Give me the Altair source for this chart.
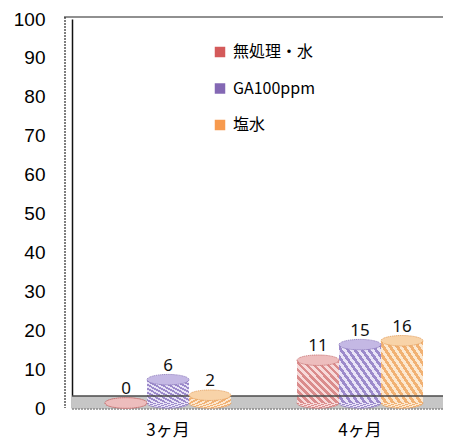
import altair as alt
import pandas as pd

categories = ["3ヶ月", "4ヶ月"]
series = ["無処理・水", "GA100ppm", "塩水"]
values_3m = [0, 6, 2]
values_4m = [11, 15, 16]
y_ticks = list(range(0, 101, 10))

legend_colors = ["#D45A5A", "#8468B4", "#F79A4E"]
stripe_light = ["#F7DADA", "#E9E4F7", "#FCE8D0"]
stripe_dark = ["#DA8C8C", "#9C8ACB", "#F1B173"]
top_fill = ["#EDBDBD", "#C4B8E4", "#F8D3A8"]
edge = ["#C46A6A", "#8572B8", "#E39A55"]

rows = []
for c, vals in zip(categories, [values_3m, values_4m]):
    for s, v in zip(series, vals):
        rows.append({"cat": c, "series": s, "value": v})
df = pd.DataFrame(rows)
one = pd.DataFrame({"k": [0]})

W, H = 371, 389


def stripes(light, dark, n):
    stops = []
    for i in range(n):
        a = i / n
        b = (i + 0.5) / n
        c = min(1.0, (i + 1) / n)
        stops += [
            alt.GradientStop(offset=a, color=light),
            alt.GradientStop(offset=b, color=light),
            alt.GradientStop(offset=b, color=dark),
            alt.GradientStop(offset=c, color=dark),
        ]
    return alt.LinearGradient(gradient="linear", x1=0, y1=1, x2=1, y2=0, stops=stops)


x_enc = alt.X(
    "cat:N",
    sort=categories,
    scale=alt.Scale(domain=categories, paddingInner=0.1355, paddingOuter=0.0339, align=1),
    axis=alt.Axis(
        title=None, domain=False, ticks=False, labelAngle=0,
        labelFont="Noto Sans CJK JP", labelFontSize=17, labelColor="#000",
        labelPadding=14,
    ),
)
xo_enc = alt.XOffset(
    "series:N", sort=series,
    scale=alt.Scale(domain=series, paddingInner=0, paddingOuter=0.476),
)
y_scale = alt.Scale(domain=[0, 100], nice=False, zero=True)
y_axis = alt.Axis(
    title=None, values=y_ticks, grid=False, ticks=False,
    domain=True, domainColor="#111", domainWidth=1.5,
    labelFont="Liberation Sans", labelFontSize=19, labelColor="#000",
    labelPadding=27, labelOverlap=False,
)
y_enc = alt.Y("value:Q", scale=y_scale, axis=y_axis)

floor = alt.Chart(one).mark_rect(fill="#C6C6C6").encode(
    x=alt.value(0), x2=alt.value(W), y=alt.value(377), y2=alt.value(390)
)
floor_top = alt.Chart(one).mark_rule(color="#4A4A4A", strokeWidth=1.5).encode(
    x=alt.value(0), x2=alt.value(W), y=alt.value(377)
)
floor_bottom = alt.Chart(one).mark_rule(color="#8A8A8A", strokeDash=[2, 1], strokeWidth=1.5).encode(
    x=alt.value(0), x2=alt.value(W), y=alt.value(390)
)
top_border = alt.Chart(one).mark_rule(color="#222", strokeWidth=1.2).encode(
    x=alt.value(-8), x2=alt.value(W), y=alt.value(-2)
)
wall = alt.Chart(one).mark_rule(color="#555", strokeWidth=1.5, strokeDash=[2, 1]).encode(
    x=alt.value(-7), x2=alt.value(-7), y=alt.value(-2), y2=alt.value(389)
)

ell = "M -1 0 A 1 0.25 0 1 0 1 0 A 1 0.25 0 1 0 -1 0 Z"

bottoms, bars, tops = [], [], []
for i, s in enumerate(series):
    base = alt.Chart(df).transform_filter(alt.datum.series == s)
    grad = stripes(stripe_light[i], stripe_dark[i], 12)
    bottoms.append(
        base.mark_point(shape=ell, filled=True, size=1764, fill=grad, stroke=edge[i],
                        strokeWidth=0.6, opacity=1, yOffset=-5)
        .encode(x=x_enc, xOffset=xo_enc, y=alt.datum(0, scale=y_scale, axis=y_axis))
    )
    bars.append(
        base.mark_bar(fill=grad, yOffset=-5, y2Offset=-5, strokeWidth=0)
        .encode(x=x_enc, xOffset=xo_enc, y=y_enc)
    )
    tops.append(
        base.mark_point(shape=ell, filled=True, size=1764, fill=top_fill[i], stroke=edge[i],
                        strokeWidth=1, strokeDash=[1, 1], opacity=1, yOffset=-5)
        .encode(x=x_enc, xOffset=xo_enc, y=y_enc)
    )

labels = alt.Chart(df).mark_text(dy=-19, font="Noto Sans", fontSize=17, color="#111").encode(
    x=x_enc, xOffset=xo_enc, y=y_enc, text="value:Q"
)

legend_layer = alt.Chart(df).mark_square(opacity=0).encode(
    x=x_enc, xOffset=xo_enc, y=y_enc,
    color=alt.Color(
        "series:N",
        scale=alt.Scale(domain=series, range=legend_colors),
        legend=alt.Legend(
            title=None, orient="none", legendX=140, legendY=25,
            symbolType="square", symbolSize=110, symbolOpacity=1, symbolStrokeWidth=0,
            labelFont="Noto Sans CJK JP", labelFontSize=16, labelColor="#000",
            labelOffset=5, rowPadding=20.5, padding=0,
        ),
    ),
)

chart = alt.layer(
    floor, floor_bottom, wall, top_border, *bottoms, *bars, floor_top, *tops, labels, legend_layer
).properties(
    width=W, height=H,
    autosize=alt.AutoSizeParams(type="none"),
    padding={"left": 64, "top": 11, "right": 0, "bottom": 32},
    background="white",
).configure_view(stroke=None).configure_axisY(labelOverlap=False)

chart.save("out.html", embed_options={"renderer": "svg", "actions": False})
